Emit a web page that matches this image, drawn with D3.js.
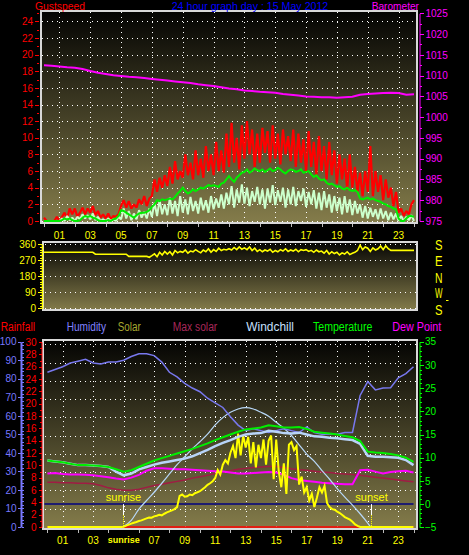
<!DOCTYPE html>
<html>
<head>
<meta charset="utf-8">
<script src="https://cdn.jsdelivr.net/npm/d3@7/dist/d3.min.js"></script>
<style>
html,body{margin:0;padding:0;background:#000;overflow:hidden;}
svg{display:block;}
</style>
</head>
<body>
<svg id="chart" width="469" height="555"></svg>
<script>
// ================= DATA =================
const hourTicks = [1,3,5,7,9,11,13,15,17,19,21,23];
const hourLabelsTop = ["01","03","05","07","09","11","13","15","17","19","21","23"];
const hourLabelsBottom = ["01","03","sunrise","07","09","11","13","15","17","19","21","23"];
const gustTicks = [0,2,4,6,8,10,12,14,16,18,20,22,24];
const baroTicks = [975,980,985,990,995,1000,1005,1010,1015,1020,1025];
const dirTicks = [0,90,180,270,360];
const compassLabels = ["S","E","N","W","S"];
const humTicks = [0,10,20,30,40,50,60,70,80,90,100];
const rainTicks = [0,2,4,6,8,10,12,14,16,18,20,22,24,26,28,30];
const tempTicks = [-5,0,5,10,15,20,25,30,35];

const tenMinStep = 1/6;   // hours between samples of the 10-minute series
const halfHourStep = 0.5; // hours between samples of the half-hour series

// Gust speed (knots), 10-minute samples 00:00 .. 24:00
const gust = [
0.4,0,0,0,0,0.5, 0,0.5,1.0,0.3,1.5,0.8, 1.5,0.5,1.0,1.6,0.8,1.5, 1.0,1.8,0.7,1.2,0.4,0.8,
0.3,0.9,0.2,0.6,0.5,0.8, 1.8,2.5,1.6,2.4,1.5,2.0, 1.6,2.6,2.0,3.0,1.8,2.7, 3.0,5.0,3.5,5.2,4.0,5.5,
4.2,6.5,4.5,7.2,5.0,6.0, 5.2,8.0,5.5,7.0,5.0,8.5, 5.5,7.5,5.2,9.0,6.0,8.0, 5.5,9.5,6.0,8.5,5.8,10.5,
6.5,11.8,7.0,10.0,6.2,11.5, 7.5,12.0,8.0,11.0,6.5,10.5, 7.0,11.2,8.2,10.8,7.0,11.5, 7.5,10.5,6.8,11.0,8.0,10.2,
7.2,11.0,6.5,10.5,7.0,9.8, 6.0,10.8,6.5,9.5,5.5,10.2, 6.0,9.0,5.0,9.5,5.5,8.5, 4.5,8.0,5.0,7.5,3.8,8.0,
4.0,6.5,3.5,5.8,3.0,6.0, 3.5,9.0,3.0,6.0,3.5,5.5, 2.5,5.0,2.8,4.0,1.8,3.5, 1.0,1.5,0.6,1.2,0.8,2.0,2.5];
// Average wind speed (knots), 10-minute samples
const windAvg = [
0,0,0,0,0,0, 0,0.1,0.3,0.2,0.3,0.1, 0,0,0.1,0.4,0.6,0.5, 0.6,0.4,0.3,0.1,0,0,
0,0.1,0,0.2,0.3,0.6, 1.3,1.2,1.0,0.8,0.6,0.4, 0.7,0.9,1.0,1.0,1.1,1.3, 1.7,2.0,2.5,2.4,2.6,2.5,
2.6,2.7,2.6,2.9,3.3,3.6, 4.0,3.6,3.3,3.5,3.8,3.6, 3.8,4.0,3.9,4.1,4.3,4.2, 4.3,4.2,4.1,4.5,4.6,5.0,
5.4,5.0,4.7,5.2,5.5,5.8, 5.9,6.2,5.8,6.0,6.3,6.1, 6.0,6.2,5.9,6.1,6.3,6.0, 6.1,6.4,6.2,5.9,5.7,6.0,
6.2,6.1,5.9,6.0,6.2,5.8, 5.9,6.0,5.6,5.3,5.5,5.1, 4.9,5.0,4.6,4.4,4.5,4.3, 4.1,4.2,3.9,3.8,4.0,3.7,
3.6,3.7,3.5,2.7,2.6,2.7, 2.8,2.6,2.7,2.5,2.4,2.3, 2.1,2.0,1.8,1.7,1.5,1.4, 0.3,0,0,0.3,0.6,0.6,0.5];
// Wind speed (knots), 10-minute samples
const windSpeed = [
0,0,0,0,0,0, 0,0.3,0,0.6,0.1,0.4, 0,0.5,0.2,0.8,0.3,0.7, 0.2,0.9,0.1,0.5,0,0.2,
0,0.3,0,0.2,0,0.5, 0.2,1.5,0.3,1.2,0.1,0.9, 0.2,1.3,0.4,1.1,0.3,1.5, 0.5,2.2,0.6,2.5,0.8,2.0,
0.7,2.8,0.9,2.4,0.6,3.0, 1.0,2.6,0.8,2.9,1.2,2.4, 0.9,2.8,1.3,2.5,1.0,3.0, 1.4,2.7,1.6,3.2,1.5,3.4,
2.0,4.2,1.6,3.8,2.2,4.4, 2.1,4.0,1.8,3.6,2.3,4.1, 2.0,3.8,1.5,3.9,2.2,4.3, 1.9,3.7,2.3,4.0,1.6,3.8,
2.0,4.1,1.8,3.6,2.4,3.9, 1.7,3.5,2.0,3.7,1.5,3.4, 1.3,3.6,1.6,3.2,1.0,3.0, 1.2,2.8,0.8,3.0,1.0,2.6,
0.7,2.4,0.9,2.0,0.4,1.8, 0.3,1.6,0.5,1.4,0.2,1.5, 0.3,1.2,0.1,1.0,0.2,0.9, 0,0.6,0,0.5,0.1,0.7,0];
// Barometer (hPa), half-hour samples
const baro = [1012.5,1012.4,1012.2,1012.0,1011.9,1011.6,1011.1,1010.7,1010.4,1010.1,
1009.9,1009.7,1009.6,1009.4,1009.2,1009.0,1008.8,1008.6,1008.4,1008.2,
1007.9,1007.7,1007.5,1007.2,1006.9,1006.7,1006.4,1006.3,1006.1,1006.0,
1005.9,1005.6,1005.4,1005.2,1005.0,1004.9,1004.8,1004.8,1004.7,1004.8,
1004.9,1005.4,1005.6,1005.7,1005.8,1005.9,1005.8,1005.4,1005.5];
// Wind direction (degrees), 10-minute samples
const windDir = [
315,315,315,315,315,315, 315,315,315,315,315,315, 315,315,315,315,315,315, 315,315,304,304,304,304,
304,304,304,304,304,304, 304,304,304,292,292,292, 292,292,292,292,292,287, 296,306,290,315,300,320,
305,318,300,325,312,320, 315,328,310,322,318,330, 320,312,328,318,335,315, 330,320,338,325,332,328,
335,328,342,330,345,332, 340,330,345,325,338,320, 330,318,328,322,332,315, 325,318,330,322,335,320,
328,322,332,318,330,325, 330,320,326,315,328,318, 322,310,325,305,318,308, 315,300,312,305,318,302,
310,315,325,355,330,345, 338,320,340,328,335,350, 330,352,335,326,326,326, 326,326,326,326,326,326,326];
// Humidity (%), half-hour samples
const humidity = [83.5,85,86.5,88.5,89.5,90.5,88.5,88,89,89,
90,92,93.5,93.5,92.5,89,83.5,81,77.5,75,
73,69.5,67,64.5,59.5,55,52,53,52,51,
52,53,52,51,54,51,50,50,50,51,
51,71,78.5,74,75,75.2,80.5,82.8,86.5];
// Temperature (°C), half-hour samples
const temperature = [9.4,9.2,9.0,8.7,8.4,8.4,8.3,8.2,8.0,7.5,
7.0,7.3,8.0,8.7,9.4,9.9,10.4,10.9,11.4,11.9,
12.5,13.1,13.8,14.4,15.0,15.6,16.1,16.3,16.5,17.0,
16.8,16.5,16.5,16.6,16.2,15.6,15.4,15.2,15.0,14.7,
14.4,13.6,11.3,11.1,11.0,10.8,10.5,10.0,9.1];
// Windchill (°C), half-hour samples
const windchill = [9.4,9.2,9.0,8.7,8.4,8.4,8.3,8.2,8.0,7.0,
6.2,6.6,7.5,8.0,8.5,8.9,9.2,9.5,9.8,10.3,
11.0,11.7,12.5,13.2,13.8,14.5,15.0,15.2,15.3,15.8,
15.6,15.3,15.2,15.4,15.0,14.6,14.5,14.3,14.2,14.0,
13.8,13.0,10.4,10.2,10.2,10.1,10.0,9.5,8.4];
// Dew point (°C), half-hour samples
const dewPoint = [6.6,6.7,6.5,6.4,6.4,6.3,6.2,6.0,5.8,5.5,
5.3,5.7,6.3,7.2,7.7,7.7,7.6,7.5,7.5,7.4,
7.3,7.2,7.1,7.0,6.8,6.6,6.6,6.7,6.8,6.9,
6.8,6.3,5.6,5.2,5.0,4.8,4.6,4.5,4.4,4.3,
4.3,7.3,7.4,7.0,6.6,6.9,7.1,7.2,6.8];
// Max solar trace (crimson), on the temperature scale, half-hour samples
const maxSolarTrace = [4.7,4.7,4.6,4.6,4.5,4.5,4.4,4.0,3.5,3.2,
3.0,3.0,3.2,3.6,4.0,4.3,4.6,4.9,5.2,5.6,
5.9,6.2,6.6,6.9,7.2,7.5,7.7,7.9,8.0,8.1,
8.1,7.9,7.6,7.4,7.3,7.1,6.9,6.8,6.6,6.5,
6.4,6.2,6.0,5.8,5.6,5.4,5.2,5.0,4.8];
// Solar radiation (W/m2), 10-minute samples
const solar = [
0,0,0,0,0,0, 0,0,0,0,0,0, 0,0,0,0,0,0, 0,0,0,0,0,0, 0,0,0,0,0,0,
2,10,18,25,32,38, 45,50,58,65,72,70,
80,85,92,88,100,110, 118,125,135,150,235,245,
228,232,245,240,255,262, 270,285,300,318,330,345,
370,430,395,470,505,480, 560,610,520,705,540,690,
600,680,480,640,450,620, 520,660,470,650,690,360,
660,420,300,480,250,620, 640,580,610,320,380,260,
300,200,250,150,220,300, 260,310,180,150,135,130,
115,105,90,75,65,55, 40,20,8,0,0,0,
0,0,0,0,0,0, 0,0,0,0,0,0, 0,0,0,0,0,0, 0];
// Clear-sky solar curve (W/m2)
const sunHours  = [4.96,5.5,6,6.5,7,7.5,8,8.5,9,9.5,10,10.5,11,11.5,12,12.5,13,13.5,14,14.5,15,15.5,16,16.5,17,17.5,18,18.5,19,19.5,20,20.5,21,21.2];
const sunValues = [0,50,135,200,262,330,400,470,530,590,643,700,770,825,865,890,900,890,865,835,790,745,690,620,550,495,425,360,290,225,165,100,30,0];
// Rainfall (mm), hourly
const rainfall = [0,0,0,0,0,0,0,0,0,0,0,0,0,0,0,0,0,0,0,0,0,0,0,0,0];
const freezingLevel = 0;
const sunriseHour = 4.98, sunsetHour = 21.24;

// ================= DRAWING =================
const FONT = '"Liberation Sans Narrow","Arial Narrow","Liberation Sans",Arial,sans-serif';
const svg = d3.select("#chart");
svg.append("rect").attr("width",469).attr("height",555).attr("fill","#000");
const defs = svg.append("defs");
const grad = defs.append("linearGradient").attr("id","bg").attr("x1",0).attr("y1",0).attr("x2",0).attr("y2",1);
grad.append("stop").attr("offset","0%").attr("stop-color","#030302");
grad.append("stop").attr("offset","100%").attr("stop-color","#857d4b");

function panel(id,x0,y0,x1,y1){
  svg.append("rect").attr("x",x0).attr("y",y0).attr("width",x1-x0).attr("height",y1-y0).attr("fill","url(#bg)");
  defs.append("clipPath").attr("id",id).append("rect").attr("x",x0).attr("y",y0).attr("width",x1-x0).attr("height",y1-y0);
}
function border(x0,y0,x1,y1){
  svg.append("rect").attr("x",x0+1).attr("y",y0+1).attr("width",x1-x0-2).attr("height",y1-y0-2)
    .attr("fill","none").attr("stroke","#d8d8d8").attr("stroke-width",2);
}
function hDots(g,ys,x0,x1){
  ys.forEach(y=>g.append("line").attr("x1",x0).attr("x2",x1).attr("y1",Math.round(y)+0.5).attr("y2",Math.round(y)+0.5)
    .attr("stroke","#fff").attr("stroke-dasharray","1,4").attr("stroke-width",1).attr("shape-rendering","crispEdges"));
}
function vDots(g,xs,y0,y1){
  xs.forEach(x=>g.append("line").attr("y1",y0).attr("y2",y1).attr("x1",Math.round(x)+0.5).attr("x2",Math.round(x)+0.5)
    .attr("stroke","#fff").attr("stroke-dasharray","1,4").attr("stroke-width",1).attr("shape-rendering","crispEdges"));
}
function styleAxis(g,color,size,keepDomain,domainW){
  if(!keepDomain) g.select(".domain").remove();
  else g.select(".domain").attr("stroke",color).attr("stroke-width",domainW||1);
  g.selectAll(".tick line").attr("stroke",color).attr("shape-rendering","crispEdges");
  g.selectAll(".tick text").attr("fill",color).attr("font-size",size).attr("font-family",FONT);
}
function txt(x,y,s,color,size,opts){
  const t = svg.append("text").attr("x",x).attr("y",y).text(s).attr("fill",color)
    .attr("font-size",size).attr("font-family",FONT);
  if(opts&&opts.len) t.attr("textLength",opts.len).attr("lengthAdjust","spacingAndGlyphs");
  if(opts&&opts.anchor) t.attr("text-anchor",opts.anchor);
  if(opts&&opts.weight) t.attr("font-weight",opts.weight);
  return t;
}

// ---------- TOP PANEL ----------
const xTop = d3.scaleLinear().domain([0,24]).range([44,414]);
const yGust = d3.scaleLinear().domain([0,24]).range([221,21.3]);
const yBaro = d3.scaleLinear().domain([975,1025]).range([221,13.3]);
panel("clipTop",40,10,418,224);
const gTop = svg.append("g");
hDots(gTop, gustTicks.map(yGust), 42, 416);
vDots(gTop, hourTicks.map(xTop), 12, 222);
const gTopData = svg.append("g").attr("clip-path","url(#clipTop)");
const tenLine = (scale)=> d3.line().x((d,i)=>xTop(i*tenMinStep)).y(d=>scale(d));
gTopData.append("path").datum(gust).attr("d", tenLine(yGust))
  .attr("fill","none").attr("stroke","#ff0000").attr("stroke-width",2.2).attr("stroke-linejoin","bevel");
gTopData.append("path").datum(windSpeed).attr("d", tenLine(yGust))
  .attr("fill","none").attr("stroke","#ccffcc").attr("stroke-width",2).attr("stroke-linejoin","bevel");
gTopData.append("path").datum(windAvg).attr("d", tenLine(yGust))
  .attr("fill","none").attr("stroke","#00ee00").attr("stroke-width",2);
gTopData.append("path").datum(baro)
  .attr("d", d3.line().x((d,i)=>xTop(i*halfHourStep)).y(d=>yBaro(d)))
  .attr("fill","none").attr("stroke","#ff00ff").attr("stroke-width",2);
border(40,10,418,224);

// axes top
const axG = svg.append("g").attr("transform","translate(39,0)")
  .call(d3.axisLeft(yGust).tickValues(gustTicks).tickSize(4).tickPadding(2).tickSizeOuter(0));
styleAxis(axG,"#ff0000",10,false);
const axGm = svg.append("g").attr("transform","translate(39,0)")
  .call(d3.axisLeft(yGust).tickValues(d3.range(0,26,1)).tickSize(2).tickFormat(""));
styleAxis(axGm,"#ff0000",10,false);
const axB = svg.append("g").attr("transform","translate(419.5,0)")
  .call(d3.axisRight(yBaro).tickValues(baroTicks).tickFormat(d3.format("d")).tickSize(4).tickPadding(2).tickSizeOuter(0));
styleAxis(axB,"#ff00ff",10,true,1);
const axBm = svg.append("g").attr("transform","translate(419.5,0)")
  .call(d3.axisRight(yBaro).tickValues(d3.range(977.5,1025,5)).tickSize(2).tickFormat(""));
styleAxis(axBm,"#ff00ff",10,false);
const axTt = svg.append("g").attr("transform","translate(0,224)")
  .call(d3.axisBottom(xTop).tickValues(d3.range(0,25,2)).tickSize(3).tickFormat(""));
styleAxis(axTt,"#bbbbbb",10,false);
hourTicks.forEach((h,i)=>txt(xTop(h),238.5,hourLabelsTop[i],"#ffff00",10,{anchor:"middle"}));

// titles
txt(35,10,"Gustspeed","#ff0000",11,{len:50});
txt(171.7,10,"24 hour graph day : 15 May 2012","#0000ff",11,{len:156.6});
txt(371.7,10,"Barometer","#ff00ff",11,{len:47.3});

// ---------- MIDDLE PANEL (wind direction) ----------
const yDir = d3.scaleLinear().domain([0,360]).range([308.3,244.3]);
panel("clipMid",42,241,418,311);
const gMid = svg.append("g");
hDots(gMid, dirTicks.map(yDir), 45, 416);
const gMidData = svg.append("g").attr("clip-path","url(#clipMid)");
gMidData.append("path").datum(windDir).attr("d", tenLine(yDir))
  .attr("fill","none").attr("stroke","#ffff00").attr("stroke-width",1.6);
border(42,241,418,311);
const axD = svg.append("g").attr("transform","translate(42,0)")
  .call(d3.axisLeft(yDir).tickValues(dirTicks).tickSize(4).tickPadding(2).tickSizeOuter(0));
styleAxis(axD,"#ffff00",10,true,1.5);
const axDm = svg.append("g").attr("transform","translate(42,0)")
  .call(d3.axisLeft(yDir).tickValues(d3.range(0,361,15)).tickSize(2).tickFormat(""));
styleAxis(axDm,"#ffff00",10,false);
const compassY = [249.5,266,282.7,298.3,315];
compassLabels.forEach((c,i)=>txt(435,compassY[i],c,"#ffff00",14,{len:7.5}));
// small dash mark next to W
svg.append("line").attr("x1",446).attr("x2",448.5).attr("y1",300.5).attr("y2",300.5).attr("stroke","#ffff00").attr("stroke-width",1);

// ---------- LEGEND ROW ----------
txt(0.7,331,"Rainfall","#ff0000",12,{len:34.3});
txt(66.7,331,"Humidity","#8080ff",12,{len:39.3});
txt(117.7,331,"Solar","#a8a830",12,{len:23});
txt(172.7,331,"Max solar","#a8285a",12,{len:44.6});
txt(246.3,331,"Windchill","#c8e0ff",12,{len:47.7});
txt(313,331,"Temperature","#00ff00",12,{len:59.3});
txt(392.3,331,"Dew Point","#ff00ff",12,{len:49});

// ---------- BOTTOM PANEL ----------
const xBot = d3.scaleLinear().domain([0,24]).range([47.4,413.5]);
const yHum = d3.scaleLinear().domain([0,100]).range([527,341.7]);
const yRain = d3.scaleLinear().domain([0,30]).range([527,342]);
const yTemp = d3.scaleLinear().domain([-5,35]).range([527.3,341.7]);
const ySolar = d3.scaleLinear().domain([0,1000]).range([527,394.4]);
const yGrid = d3.scaleLinear().domain([0,10]).range([527,344.3]);
panel("clipBot",42,339,418,530);
const gBot = svg.append("g");
hDots(gBot, d3.range(1,11).map(yGrid), 45, 416);
vDots(gBot, hourTicks.map(xBot), 341, 528);
const gBD = svg.append("g").attr("clip-path","url(#clipBot)");
const halfLine = (scale)=> d3.line().x((d,i)=>xBot(i*halfHourStep)).y(d=>scale(d));
// freezing line
gBD.append("line").attr("x1",xBot(0)-3).attr("x2",xBot(24)).attr("y1",yTemp(freezingLevel)).attr("y2",yTemp(freezingLevel))
  .attr("stroke","#000080").attr("stroke-width",1.5);
// rainfall
gBD.append("path").datum(rainfall).attr("d", d3.line().x((d,i)=>xBot(i)).y(d=>yRain(d)))
  .attr("fill","none").attr("stroke","#ff0000").attr("stroke-width",1.5);
// max solar (crimson)
gBD.append("path").datum(maxSolarTrace).attr("d", halfLine(yTemp))
  .attr("fill","none").attr("stroke","#a01c44").attr("stroke-width",1.5);
// dew point
gBD.append("path").datum(dewPoint).attr("d", halfLine(yTemp))
  .attr("fill","none").attr("stroke","#ff00ff").attr("stroke-width",2);
// sun curve
gBD.append("path").datum(sunValues.map((v,i)=>[sunHours[i],v]))
  .attr("d", d3.line().curve(d3.curveMonotoneX).x(d=>xBot(d[0])).y(d=>ySolar(d[1])))
  .attr("fill","none").attr("stroke","#b8d8f8").attr("stroke-width",1.2);
// solar
gBD.append("path").datum(solar).attr("d", d3.line().x((d,i)=>xBot(i*tenMinStep)).y(d=>ySolar(d)))
  .attr("fill","none").attr("stroke","#ffff00").attr("stroke-width",2);
// humidity
gBD.append("path").datum(humidity).attr("d", halfLine(yHum))
  .attr("fill","none").attr("stroke","#7878ee").attr("stroke-width",1.5);
// windchill (under temperature)
gBD.append("path").datum(windchill).attr("d", halfLine(yTemp))
  .attr("fill","none").attr("stroke","#b8d4f8").attr("stroke-width",2.5);
// temperature
gBD.append("path").datum(temperature).attr("d", halfLine(yTemp))
  .attr("fill","none").attr("stroke","#00ee00").attr("stroke-width",2);

// sunrise / sunset markers
[[sunriseHour,"sunrise"],[sunsetHour,"sunset"]].forEach(([h,lab])=>{
  const x = Math.round(xBot(h))+0.5;
  svg.append("line").attr("x1",x).attr("x2",x).attr("y1",yTemp(0)).attr("y2",yTemp(0)+11).attr("stroke","#fff").attr("stroke-width",1);
  svg.append("line").attr("x1",x).attr("x2",x).attr("y1",yTemp(0)+11).attr("y2",527).attr("stroke","#ffff00").attr("stroke-width",1).attr("stroke-dasharray","1,1");
  txt(x,501,lab,"#ffff00",11,{anchor:"middle"});
});
border(42,339,418,530);

// bottom axes
const axH = svg.append("g").attr("transform","translate(21,0)")
  .call(d3.axisLeft(yHum).tickValues(humTicks).tickSize(3).tickPadding(1.5).tickSizeOuter(0));
styleAxis(axH,"#7878ff",10,true,2);
const axHm = svg.append("g").attr("transform","translate(22,0)")
  .call(d3.axisRight(yHum).tickValues(d3.range(0,101,2)).tickSize(1.5).tickFormat(""));
styleAxis(axHm,"#7878ff",10,false);
const axR = svg.append("g").attr("transform","translate(41.5,0)")
  .call(d3.axisLeft(yRain).tickValues(rainTicks).tickSize(3).tickPadding(2).tickSizeOuter(0));
styleAxis(axR,"#ff0000",10,true,1);
const axRm = svg.append("g").attr("transform","translate(41.5,0)")
  .call(d3.axisLeft(yRain).tickValues(d3.range(1,30,2)).tickSize(1.5).tickFormat(""));
styleAxis(axRm,"#ff0000",10,false);
const axT = svg.append("g").attr("transform","translate(419.5,0)")
  .call(d3.axisRight(yTemp).tickValues(tempTicks).tickSize(4).tickPadding(1.5).tickSizeOuter(0));
styleAxis(axT,"#00ff00",10,true,1);
const axTm = svg.append("g").attr("transform","translate(419.5,0)")
  .call(d3.axisRight(yTemp).tickValues(d3.range(-5,36,1)).tickSize(2).tickFormat(""));
styleAxis(axTm,"#00ff00",10,false);
const axBt = svg.append("g").attr("transform","translate(0,530)")
  .call(d3.axisBottom(xBot).tickValues(d3.range(0,25,2)).tickSize(3).tickFormat(""));
styleAxis(axBt,"#bbbbbb",10,false);
hourTicks.forEach((h,i)=>{
  const lab = hourLabelsBottom[i];
  if(lab.length>2) txt(xBot(h),543,lab,"#ffff00",9,{anchor:"middle",weight:"bold"});
  else txt(xBot(h),544,lab,"#ffff00",10,{anchor:"middle"});
});
</script>
</body>
</html>
